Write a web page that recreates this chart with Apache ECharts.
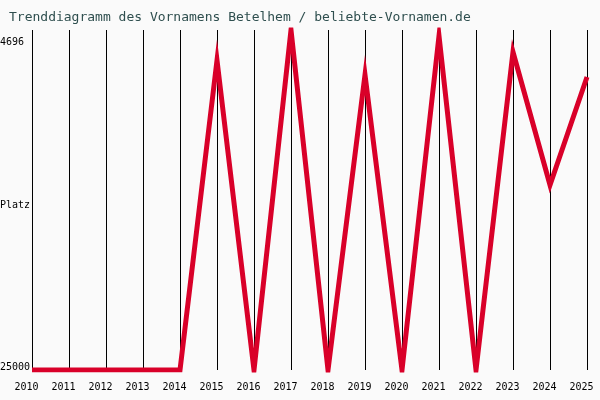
<!DOCTYPE html>
<html>
<head>
<meta charset="utf-8">
<script src="https://cdn.jsdelivr.net/npm/echarts@6/dist/echarts.min.js"></script>
<style>
  html, body { margin: 0; padding: 0; background: #fafafa; }
  #main { width: 600px; height: 400px; }
</style>
</head>
<body>
<div id="main"></div>
<script>
// Jahre und Platzierungen (Rang, kleiner = beliebter)
var years = ['2010','2011','2012','2013','2014','2015','2016','2017','2018','2019','2020','2021','2022','2023','2024','2025'];
var ranks = [25000, 25000, 25000, 25000, 25000, 6500, 25000, 4696, 25000, 7380, 25000, 5050, 25000, 6010, 13950, 7500];
var rankLabels = [4696, 25000];

var myChart = echarts.init(document.getElementById('main'));
var mono = 'DejaVu Sans Mono';

var option = {
    backgroundColor: '#fafafa',
    animation: false,
    title: {
        text: 'Trenddiagramm des Vornamens Betelhem / beliebte-Vornamen.de',
        left: 9,
        top: 11,
        padding: 0,
        textStyle: { fontFamily: mono, fontSize: 13, fontWeight: 'normal', color: '#2f4f4f' }
    },
    grid: { left: 32, right: 13, top: 30, bottom: 30, outerBoundsMode: 'none', containLabel: false },
    xAxis: {
        type: 'category',
        data: years,
        boundaryGap: false,
        axisLine: { show: false },
        axisTick: { show: false },
        axisLabel: {
            fontFamily: mono, fontSize: 10, color: '#000',
            margin: 12, padding: [0, 11, 0, 0], interval: 0
        },
        splitLine: { show: true, interval: 0, lineStyle: { color: '#000', width: 1 } }
    },
    yAxis: {
        type: 'value',
        inverse: true,
        min: 4696,
        max: 25000,
        name: 'Platz',
        nameLocation: 'middle',
        nameRotate: 0,
        nameGap: 2,
        nameMoveOverlap: false,
        nameTextStyle: { fontFamily: mono, fontSize: 10, color: '#000', verticalAlign: 'top' },
        axisLine: { show: false },
        axisTick: { show: false },
        splitLine: { show: false },
        axisLabel: {
            customValues: rankLabels,
            align: 'left',
            margin: 32,
            fontFamily: mono, fontSize: 10, color: '#000',
            formatter: function (v) {
                return v === rankLabels[0] ? '{top|' + v + '}' : '{bot|' + v + '}';
            },
            rich: {
                top: { fontFamily: mono, fontSize: 10, color: '#000', padding: [24, 0, 0, 0] },
                bot: { fontFamily: mono, fontSize: 10, color: '#000', padding: [0, 0, 6, 0] }
            }
        }
    },
    series: [{
        type: 'line',
        data: ranks,
        symbol: 'none',
        lineStyle: { color: '#d90029', width: 5, join: 'miter' }
    }]
};

myChart.setOption(option);
</script>
</body>
</html>
